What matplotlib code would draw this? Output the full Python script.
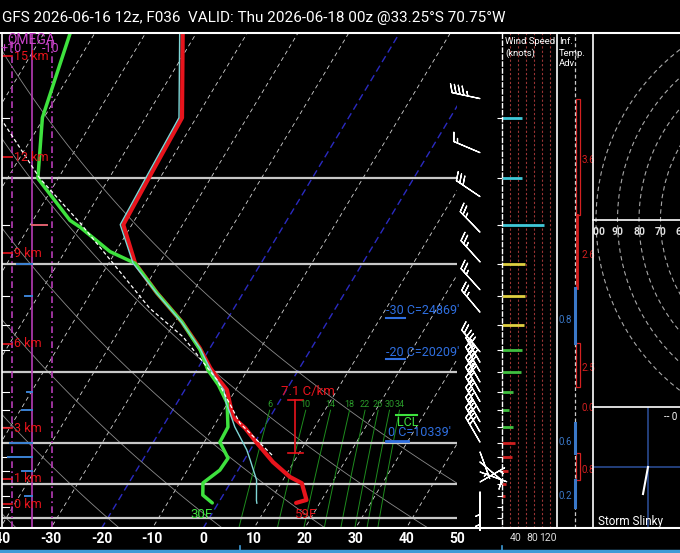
import numpy as np
import matplotlib
matplotlib.use('Agg')
import matplotlib.pyplot as plt
from matplotlib.transforms import Affine2D, blended_transform_factory
from matplotlib.lines import Line2D
from matplotlib.patches import Circle, Rectangle

plt.rcParams['font.family'] = ['Roboto', 'DejaVu Sans']

W, H = 680, 553
SKEW = 25.0      # degC of skew per ln(p) unit
P_BOT = 1050.0

title = "GFS 2026-06-16 12z, F036  VALID: Thu 2026-06-18 00z @33.25\u00b0S 70.75\u00b0W"

# sounding (hPa, degC)
temp_p = [931, 918, 848, 823, 767, 701, 653, 620, 580, 545, 513, 491, 447, 395, 344, 299, 249, 200, 150, 100]
temp_c = [15.3, 17.0, 14.1, 11.0, 5.9, 0.5, -3.6, -7.3, -9.6, -11.7, -15.2, -17.6, -22.0, -28.6, -37.0, -44.8,
          -51.7, -52.2, -52.8, -62.8]
dewp_p = [931, 897, 847, 797, 753, 698, 650, 580, 532, 496, 451, 395, 344, 299, 283, 252, 244, 200, 150, 100]
dewp_c = [-1.2, -4.0, -5.4, -3.6, -3.4, -6.9, -7.1, -10.1, -14.0, -17.8, -21.7, -28.6, -37.0, -44.8, -51.1,
          -59.9, -62.7, -74.0, -80.3, -84.9]
wetb_p = [932, 920, 835, 760, 724, 649, 609, 580, 545, 513, 491, 447, 395, 344, 299, 249, 200, 150, 100]
wetb_c = [7.6, 7.2, 4.8, 1.2, -0.7, -5.8, -8.3, -10.3, -12.3, -15.6, -17.7, -22.0, -28.7, -37.1, -45.2,
          -52.3, -52.8, -53.4, -63.4]
parcel_p = [742, 638, 520, 424, 370, 247, 200, 150]
parcel_c = [4.9, -5.2, -14.8, -26.6, -36.6, -60.4, -73.6, -88.6]

iso_bars = [1000, 850, 700, 500, 300, 200]
level_ticks = [150, 250, 350, 400, 450, 550, 600, 650, 750, 800, 900, 950]
mix_w = [6, 10, 14, 18, 22, 26, 30, 34]
t_ticks = [-40, -30, -20, -10, 0, 10, 20, 30, 40, 50]
adiabat_t1000 = [-60, -40, -20, 0, 20, 40, 60]

km_p = [936, 831, 653, 438, 285, 181, 112]
km_lab = ['0 km', '1 km', '3 km', '6 km', '9 km', '12 km', '15 km']

omega_p = [250, 300, 350, 550, 600, 700, 750, 800, 900]
omega_v = [-7.5, 7.5, 3.5, 2.5, 5.0, 11.0, 12.0, 5.0, 3.5]

# wind barbs
barb_p = [137, 177, 218, 258, 297, 339, 377, 455, 478, 500, 525, 550, 576, 605, 634, 665, 698,
          731, 767, 804, 843, 884, 927]
barb_dir = [282, 293, 304, 316, 318, 318, 320, 320, 330, 330, 330, 330, 330, 330, 330, 330, 330,
            160, 130, 110, 60, 180, 180]
barb_kt = [45, 15, 30, 25, 25, 25, 25, 20, 35, 40, 35, 30, 25, 20, 25, 30, 30, 5, 10, 5, 5, 5, 5]

# wind speed panel
ws_p = [100, 150, 200, 250, 300, 350, 400, 450, 500, 550, 600, 650, 700, 750, 800, 850, 900]
ws_kt = [32, 50, 50, 105, 58, 58, 55, 50, 47, 28, 18, 28, 32, 25, 15, 10, 8]
ws_ticks = list(range(100, 1001, 50))
ws_lab = [40, 80, 120]

# inferred temperature advection layers
adv_top = [137, 238, 336, 436, 638, 735, 835]
adv_bot = [238, 336, 436, 538, 735, 835, 949]
adv_kind = ['box', 'warm', 'cold', 'box', 'cold', 'box', 'cold']
adv_lab_p = [183, 287, 391, 491, 594, 698, 797, 901]
adv_lab = ['3.6', '2.6', '0.8', '2.5', '0.0', '0.6', '0.8', '0.2']
adv_lab_warm = [True, True, False, True, True, False, True, False]

hodo_rings = [10, 20, 30, 40, 50, 60, 70, 80, 90, 100]
hodo_lab = [100, 90, 80, 70, 60]

RED = '#e8141c'
GREEN = '#3ee23e'
BLUE_TXT = '#2f6fe0'

fig = plt.figure(figsize=(W / 100, H / 100), dpi=100, facecolor='black')
PX = Affine2D().scale(1.0 / W, -1.0 / H).translate(0, 1) + fig.transFigure


def px_axes(x0, y0, x1, y1):
    a = fig.add_axes([x0 / W, 1 - y1 / H, (x1 - x0) / W, (y1 - y0) / H])
    a.set_axis_off()
    return a


def log_axes(x0, x1, xlim):
    a = px_axes(x0, 33, x1, 528)
    a.set_yscale('log')
    a.set_xlim(*xlim)
    a.set_ylim(1048.5, 100.4)
    return a


def skew(t, p):
    return np.asarray(t, dtype=float) + SKEW * np.log(P_BOT / np.asarray(p, dtype=float))


def fline(xs, ys, **kw):
    fig.add_artist(Line2D(xs, ys, transform=PX, **kw))


# ---- main skew-T
ax = log_axes(2, 457, (-40 + 2 * 90 / 457, 50))
bx = blended_transform_factory(PX, ax.transData)

pp = np.geomspace(1100, 90, 60)
for t in range(-140, 60, 10):
    if t in (0, -20):
        ax.plot(skew(t, pp), pp, color='#2a2ac0', lw=1.0, ls=(0, (5, 3)))
    else:
        ax.plot(skew(t, pp), pp, color='#d4d4d4', lw=0.6, ls=(0, (5, 4)))
for t0 in adiabat_t1000:
    tk = (t0 + 273.15) * (pp / 1000.0) ** 0.2857 - 273.15
    ax.plot(skew(tk, pp), pp, color='#8a8a8a', lw=0.6)

pm = np.linspace(1050, 600, 40)
for w in mix_w:
    e = w * pm / (622.0 + w)
    a = np.log(e / 6.112)
    tm = 243.5 * a / (17.67 - a)
    ax.plot(skew(tm, pm), pm, color='#1e8c1e', lw=0.7)
    ax.text(skew(tm[-1], pm[-1]), 584, str(w), color='#2a9a2a', fontsize=6.5, ha='center', va='center')

for p in iso_bars:
    ax.axhline(p, color='#c8c8c8', lw=1.6)

for p in level_ticks:
    ax.plot([2, 9], [p, p], transform=bx, color='white', lw=0.8)

# omega
for xo, ls in ((12, (0, (4, 2, 1, 2))), (32, '-'), (52, (0, (4, 2, 1, 2)))):
    ax.plot([xo, xo], [1048.5, 100.4], transform=bx, color='#b63cb6', lw=1.2, ls=ls)
for p, w in zip(omega_p, omega_v):
    c = '#3b82d4' if w > 0 else '#e0606e'
    ax.plot([32, 32 - 2 * w], [p, p], transform=bx, color=c, lw=1.4)

for p, lab in zip(km_p, km_lab):
    ax.plot([2, 12], [p, p], transform=bx, color=RED, lw=1.2)
    ax.text(14, p, lab, transform=bx, color=RED, fontsize=9, va='center')

ax.plot(skew(temp_c, temp_p), temp_p, color=RED, lw=3.0, solid_capstyle='round')
ax.plot(skew(dewp_c, dewp_p), dewp_p, color=GREEN, lw=2.5, solid_capstyle='round')
ax.plot(skew(wetb_c, wetb_p), wetb_p, color='#7fd6d6', lw=1.0)
ax.plot(skew(parcel_c, parcel_p), parcel_p, color='white', lw=0.9, ls=(0, (3, 2)))

# lapse rate bracket
ax.plot([295, 295], [572, 735], transform=bx, color=RED, lw=1.2)
ax.plot([288, 303], [572, 572], transform=bx, color=RED, lw=1.2)
ax.plot([288, 303], [735, 735], transform=bx, color=RED, lw=1.2)

fig.text(308, 391, '7.1 C/km', transform=PX, color=RED, fontsize=9.5, ha='center', va='center')
fig.text(201, 514, '30F', transform=PX, color=GREEN, fontsize=9.5, ha='center', va='center')
fig.text(306, 514, '59F', transform=PX, color=RED, fontsize=9.5, ha='center', va='center')

fig.text(386, 311, "-30 C=24869'", transform=PX, color=BLUE_TXT, fontsize=9, va='center')
fig.text(386, 353, "-20 C=20209'", transform=PX, color=BLUE_TXT, fontsize=9, va='center')
fig.text(388, 433, "0 C=10339'", transform=PX, color=BLUE_TXT, fontsize=9, va='center')
fline([386, 405], [318, 318], color=BLUE_TXT, lw=1.5)
fline([386, 405], [359, 359], color=BLUE_TXT, lw=1.5)
fline([386, 408], [441, 441], color=BLUE_TXT, lw=2.0)
fig.text(397, 422, 'LCL', transform=PX, color=GREEN, fontsize=9, va='center')
fline([396, 417], [415, 415], color=GREEN, lw=1.5)

fig.text(31, 40, 'OMEGA', transform=PX, color='#cc44cc', fontsize=10, ha='center', va='center')
fig.text(11, 49, '+10', transform=PX, color='#cc44cc', fontsize=9, ha='center', va='center')
fig.text(51, 49, '-10', transform=PX, color='#cc44cc', fontsize=9, ha='center', va='center')

bt = blended_transform_factory(ax.transData, PX)
for t in t_ticks:
    ax.text(t, 539, str(t), transform=bt, color='white', fontsize=10, fontweight='bold',
            ha='center', va='center')

# ---- wind barbs
axb = log_axes(457, 500, (457, 500))
spd = np.array(barb_kt, dtype=float)
rad = np.radians(barb_dir)
axb.barbs(np.full(len(barb_p), 480.0), barb_p, -spd * np.sin(rad), -spd * np.cos(rad),
          length=6.4, color='white', linewidth=0.9, sizes=dict(height=0.3, spacing=0.14), clip_on=False)

# ---- wind speed panel
axw = log_axes(502, 557, (0, 137.5))
for s in range(20, 121, 20):
    axw.axvline(s, color='#9a3434', lw=0.8, ls=(0, (2, 2)))


def layer_color(p):
    if p <= 250:
        return '#40c8d8'
    if p <= 400:
        return '#e0d040'
    if p <= 650:
        return '#40c040'
    return '#d02020'


axw.hlines(ws_p, 0, ws_kt, colors=[layer_color(p) for p in ws_p], lw=2)
axw.hlines(ws_ticks, -12.5, 0, colors='white', lw=0.8, clip_on=False)
wt = blended_transform_factory(axw.transData, PX)
for s in ws_lab:
    axw.text(s - 5, 538, str(s), transform=wt, color='#dddddd', fontsize=7.5, ha='center', va='center')
fig.text(505, 42, 'Wind Speed', transform=PX, color='white', fontsize=6.8, va='center')
fig.text(505, 53, '(knots)', transform=PX, color='white', fontsize=6.8, va='center')

# ---- temperature advection panel
axt = log_axes(557, 593, (557, 593))
axt.axvline(575, color='#cccccc', lw=0.9, ls=(0, (3, 2)))
for top, bot, kind in zip(adv_top, adv_bot, adv_kind):
    if kind == 'box':
        axt.add_patch(Rectangle((576, top), 4, bot - top, fill=False, ec='#d42020', lw=0.9))
    elif kind == 'warm':
        axt.plot([577, 577], [top, bot], color='#d42020', lw=2)
    else:
        axt.plot([575, 575], [top, bot], color='#3a78c8', lw=2.2)
for p, lab, warm in zip(adv_lab_p, adv_lab, adv_lab_warm):
    if warm:
        axt.text(582, p, lab, color='#d42020', fontsize=7, va='center', ha='left')
    else:
        axt.text(572, p, lab, color='#3a78c8', fontsize=7, va='center', ha='right')
fig.text(559, 42, 'Inf.', transform=PX, color='white', fontsize=6.8, va='center')
fig.text(559, 53, 'Temp.', transform=PX, color='white', fontsize=6.8, va='center')
fig.text(559, 64, 'Adv.', transform=PX, color='white', fontsize=6.8, va='center')

# ---- hodograph
axh = px_axes(593, 33, 680, 407)
axh.set_xlim(593, 680)
axh.set_ylim(407, 33)
for r in hodo_rings:
    axh.add_patch(Circle((811, 220), 2.15 * r, fill=False, ec='#a8a8a8', lw=0.8, ls=(0, (4, 3))))
for r in hodo_lab:
    axh.text(811 - 2.15 * r, 232, str(r), color='#e0e0e0', fontsize=7.5, fontweight='bold',
             ha='center', va='center', clip_on=True)

# ---- storm slinky
axs = px_axes(593, 407, 680, 528)
axs.set_xlim(593, 680)
axs.set_ylim(528, 407)
axs.plot([648, 648], [407, 528], color='#2a4a90', lw=1.2)
axs.plot([593, 680], [467, 467], color='#2a4a90', lw=1.2)
axs.plot([648, 643], [467, 494], color='white', lw=1.5)
axs.text(598, 521, 'Storm Slinky', color='white', fontsize=8.5, va='center')
axs.text(664, 417, '-- 0', color='white', fontsize=7, va='center', clip_on=True)

# ---- frame
fline([0, 680], [33, 33], color='white', lw=1.5)
fline([0, 680], [528, 528], color='white', lw=1.5)
fline([2, 2], [33, 528], color='white', lw=1.2)
fline([502, 502], [33, 528], color='white', lw=1.0, ls=(0, (4, 1)))
fline([557, 557], [33, 528], color='white', lw=1.2)
fline([593, 593], [33, 528], color='white', lw=1.2)
fline([593, 680], [220, 220], color='white', lw=1.2)
fline([593, 680], [407, 407], color='white', lw=1.2)
fline([0, 680], [551, 551], color='#3d9ad6', lw=2.5)
fline([240, 240], [546, 551], color='#3d9ad6', lw=1.2)
fline([502, 502], [546, 551], color='#3d9ad6', lw=1.2)

fig.text(2, 18, title, transform=PX, color='white', fontsize=11, va='center')

fig.savefig('out.png', dpi=100, facecolor='black')
